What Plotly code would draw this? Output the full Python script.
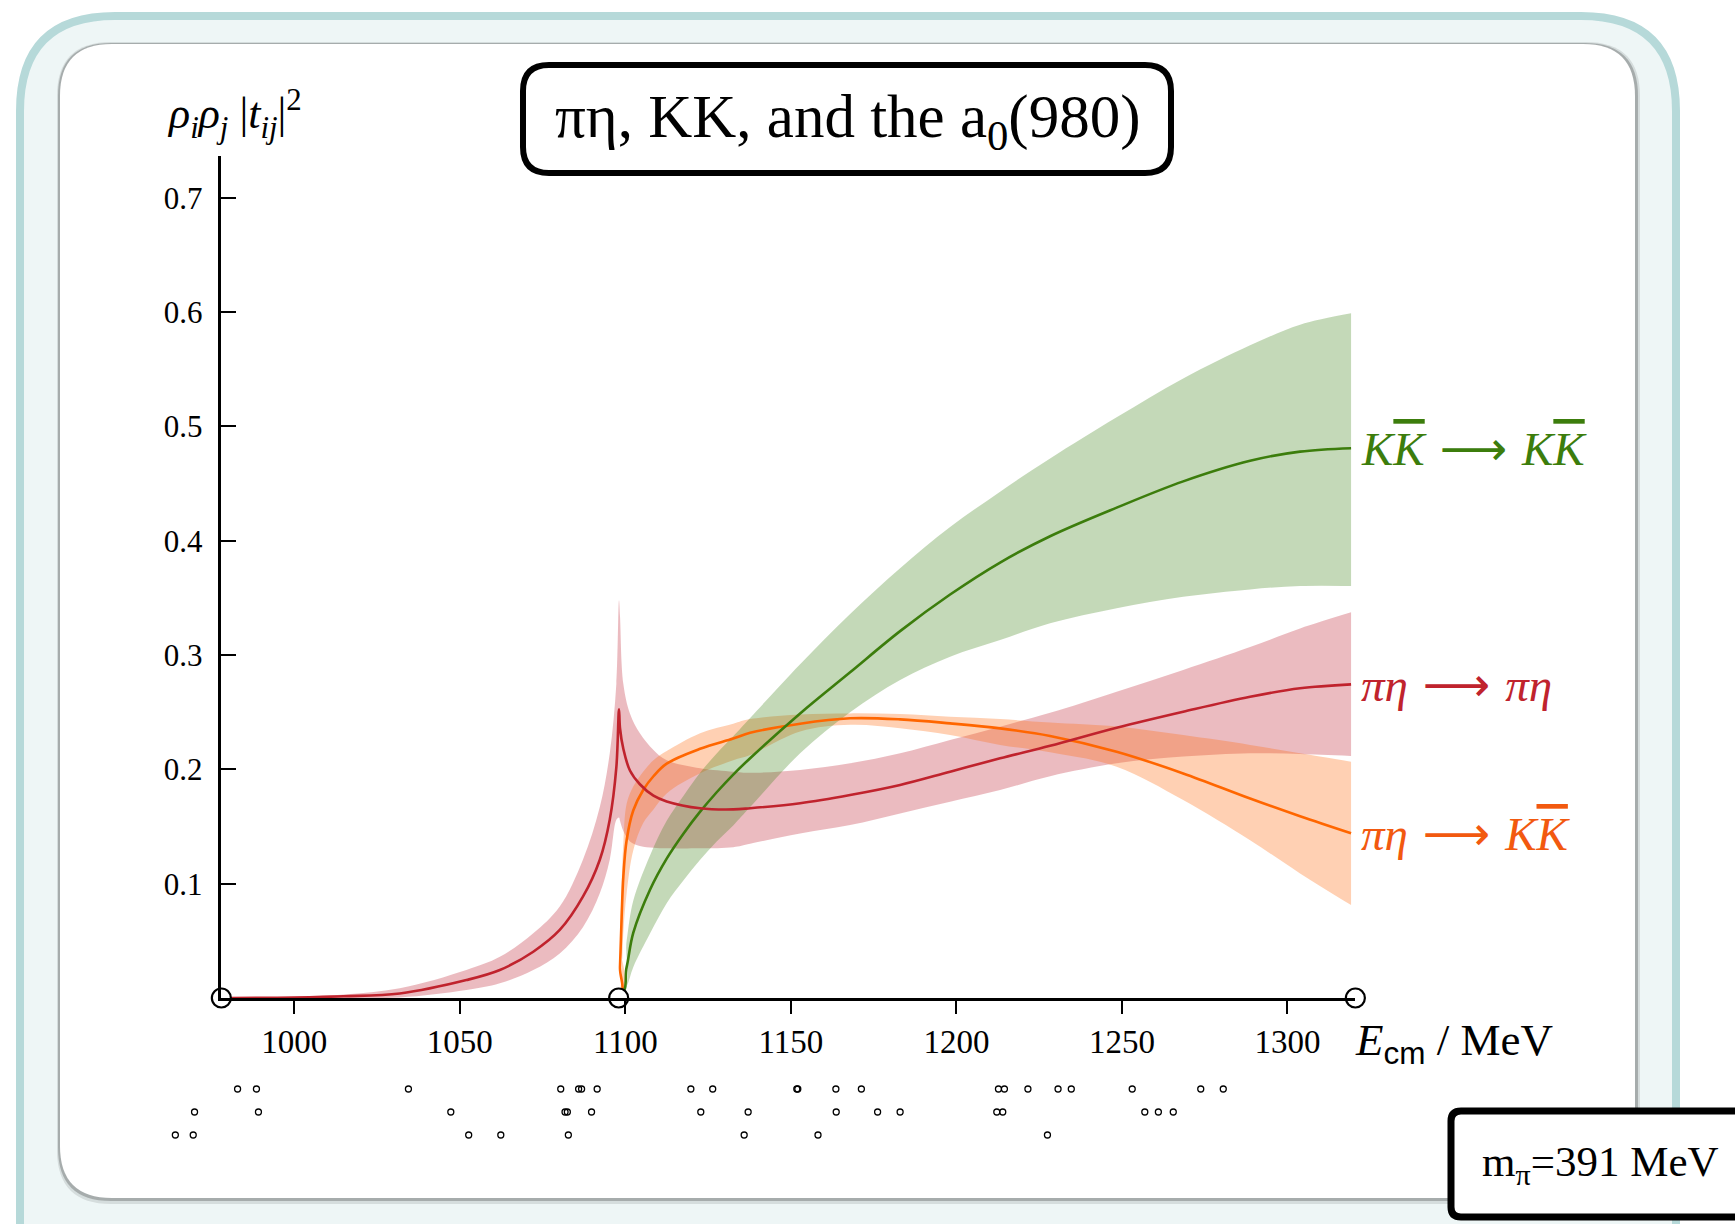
import plotly.graph_objects as go

W, H = 1735, 1224

# ---------------- data ----------------
# pi eta -> pi eta
E_pieta = [978, 1000, 1015, 1031.9, 1052, 1062.1, 1072.2, 1080.2, 1087.2, 1092.3, 1095.3, 1097.3,
           1098.1, 1098.4, 1099.4, 1101.4, 1104.4, 1108.5, 1112.5, 1122.6, 1132.6, 1137.7, 1152.8,
           1167.9, 1183, 1198.1, 1213.2, 1228.3, 1248.4, 1268.5, 1288.7, 1303.8, 1319.2]
pieta_central = [0, 0.0005, 0.0015, 0.004, 0.0157, 0.0245, 0.0405, 0.0595, 0.0886, 0.121, 0.156, 0.202,
                 0.2526, 0.236, 0.218, 0.199, 0.187, 0.177, 0.172, 0.166, 0.165, 0.166, 0.1704,
                 0.1776, 0.1864, 0.198, 0.2097, 0.2207, 0.2365, 0.2505, 0.2636, 0.271, 0.2744]
pieta_upper = [0, 0.001, 0.003, 0.0085, 0.0245, 0.036, 0.0566, 0.08, 0.121, 0.167, 0.214, 0.275,
               0.348, 0.334, 0.275, 0.249, 0.2316, 0.217, 0.208, 0.201, 0.198, 0.197, 0.1995,
               0.2053, 0.2141, 0.2257, 0.2374, 0.2495, 0.268, 0.287, 0.307, 0.3233, 0.3374]
pieta_lower = [0, 0, 0, 0.0005, 0.007, 0.0129, 0.0245, 0.039, 0.062, 0.0916, 0.121, 0.156,
               0.158, 0.155, 0.146, 0.137, 0.133, 0.1315, 0.131, 0.131, 0.132, 0.135, 0.144,
               0.1513, 0.1615, 0.1717, 0.1819, 0.194, 0.2053, 0.2112, 0.2141, 0.2135, 0.2118]

# pi eta -> K Kbar
E_pietaKK = [978, 1098, 1098.4, 1098.9, 1099.4, 1100.4, 1102.4, 1105.4, 1108.5, 1112.5, 1122.6, 1132.6,
             1137.7, 1152.8, 1167.9, 1183, 1198.1, 1213.2, 1228.3, 1248.4, 1268.5, 1288.7, 1303.8, 1319.2]
pietaKK_central = [0, 0, 0.027, 0.071, 0.106, 0.138, 0.164, 0.182, 0.194, 0.205, 0.218, 0.227,
                   0.232, 0.240, 0.2447, 0.2438, 0.2403, 0.2359, 0.2293, 0.2155, 0.1965, 0.1745, 0.159, 0.1441]
pietaKK_upper = [0, 0, 0.05, 0.10, 0.135, 0.17, 0.185, 0.198, 0.208, 0.216, 0.2316, 0.240,
                 0.244, 0.248, 0.249, 0.2484, 0.246, 0.244, 0.241, 0.2375, 0.230, 0.2214, 0.2141, 0.2068]
pietaKK_lower = [0, 0, 0.005, 0.02, 0.057, 0.0916, 0.129, 0.153, 0.165, 0.179, 0.1966, 0.208,
                 0.2126, 0.2332, 0.239, 0.236, 0.230, 0.2214, 0.215, 0.2024, 0.1732, 0.138, 0.109, 0.0813]

# K Kbar -> K Kbar
E_KK = [978, 1098, 1100.4, 1102.4, 1107.5, 1112.5, 1117.6, 1122.6, 1127.6, 1132.6, 1137.7, 1152.8,
        1167.9, 1183, 1198.1, 1213.2, 1228.3, 1248.4, 1268.5, 1288.7, 1303.8, 1319.2]
KK_central = [0, 0, 0.027, 0.057, 0.095, 0.122, 0.144, 0.163, 0.180, 0.1955, 0.2098, 0.249,
              0.285, 0.321, 0.353, 0.381, 0.404, 0.429, 0.452, 0.47, 0.478, 0.481]
KK_upper = [0, 0, 0.05, 0.085, 0.125, 0.155, 0.177, 0.197, 0.214, 0.229, 0.245, 0.292,
            0.336, 0.376, 0.412, 0.443, 0.472, 0.508, 0.542, 0.571, 0.589, 0.599]
KK_lower = [0, 0, 0.01, 0.027, 0.0566, 0.083, 0.103, 0.121, 0.137, 0.151, 0.167, 0.2141,
            0.250, 0.2782, 0.2986, 0.3132, 0.3278, 0.341, 0.351, 0.3575, 0.3605, 0.3605]

# axis markers: pi-eta threshold, K Kbar threshold, end of plotted range
threshold_E = [978, 1098, 1320.5]

# finite-volume energy levels (three rows below the axis)
levels_row1 = [982.9, 988.6, 1034.5, 1080.5, 1085.9, 1086.8, 1091.5, 1119.8, 1126.4, 1151.8, 1152.1,
               1163.6, 1171.3, 1212.7, 1214.5, 1221.6, 1230.7, 1234.7, 1253.1, 1273.8, 1280.6]
levels_row2 = [969.9, 989.2, 1047.3, 1081.8, 1082.5, 1089.8, 1122.8, 1137.1, 1163.7, 1176.2, 1183.0,
               1212.2, 1214.0, 1256.9, 1261.0, 1265.5]
levels_row3 = [964.1, 969.5, 1052.7, 1062.4, 1082.8, 1135.9, 1158.2, 1227.5]

x_ticks = [1000, 1050, 1100, 1150, 1200, 1250, 1300]
y_ticks = [0.1, 0.2, 0.3, 0.4, 0.5, 0.6, 0.7]
y_ticktext = ["0.1", "0.2", "0.3", "0.4", "0.5", "0.6", "0.7"]

# ---------------- styling ----------------
RED, RED_BAND = "#c0232d", "rgba(190,30,45,0.30)"
ORANGE, ORANGE_BAND = "#ff6600", "rgba(255,110,20,0.32)"
GREEN, GREEN_BAND = "#3c7d0c", "rgba(60,130,20,0.30)"
SERIF = "Liberation Serif"
SMOOTH = 1.0

fig = go.Figure()


def band(E, lo, hi, color):
    fig.add_trace(go.Scatter(x=E, y=lo, mode="lines",
                             line=dict(width=0, shape="spline", smoothing=SMOOTH),
                             hoverinfo="skip", showlegend=False))
    fig.add_trace(go.Scatter(x=E, y=hi, mode="lines", fill="tonexty", fillcolor=color,
                             line=dict(width=0, shape="spline", smoothing=SMOOTH),
                             hoverinfo="skip", showlegend=False))


def line(E, v, color):
    fig.add_trace(go.Scatter(x=E, y=v, mode="lines",
                             line=dict(color=color, width=2.6, shape="spline", smoothing=SMOOTH),
                             showlegend=False))


band(E_pieta, pieta_lower, pieta_upper, RED_BAND)
band(E_pietaKK, pietaKK_lower, pietaKK_upper, ORANGE_BAND)
band(E_KK, KK_lower, KK_upper, GREEN_BAND)
line(E_pietaKK, pietaKK_central, ORANGE)
line(E_KK, KK_central, GREEN)
line(E_pieta, pieta_central, RED)

fig.add_trace(go.Scatter(x=threshold_E, y=[0] * len(threshold_E), mode="markers", cliponaxis=False,
                         marker=dict(size=19, color="white", line=dict(color="black", width=2.2)),
                         showlegend=False))

for row, lv in enumerate([levels_row1, levels_row2, levels_row3], start=1):
    fig.add_trace(go.Scatter(x=lv, y=[-row] * len(lv), mode="markers", xaxis="x2", yaxis="y2",
                             cliponaxis=False,
                             marker=dict(symbol="circle-open", size=6, color="black",
                                         line=dict(width=1.3, color="black")),
                             showlegend=False))

# ---------------- geometry helpers (pixels -> paper) ----------------
def px_x(p):
    return p / W


def px_y(p):
    return 1 - p / H


def rrect(x0, y0, x1, y1, r):
    def P(x, y):
        return f"{x / W:.5f},{1 - y / H:.5f}"
    return (f"M {P(x0 + r, y0)} L {P(x1 - r, y0)} Q {P(x1, y0)} {P(x1, y0 + r)} "
            f"L {P(x1, y1 - r)} Q {P(x1, y1)} {P(x1 - r, y1)} L {P(x0 + r, y1)} "
            f"Q {P(x0, y1)} {P(x0, y1 - r)} L {P(x0, y0 + r)} Q {P(x0, y0)} {P(x0 + r, y0)} Z")


shapes = []
# outer teal frame
shapes.append(dict(type="path", path=rrect(20, 16, 1676, 1320, 95), xref="paper", yref="paper",
                   fillcolor="#eef6f6", line=dict(color="#b6d9d9", width=8), layer="below"))
# inner card shadow
shapes.append(dict(type="path", path=rrect(57, 42, 1640, 1204, 54), xref="paper", yref="paper",
                   fillcolor="rgba(0,0,0,0.10)", line=dict(width=0), layer="below"))
shapes.append(dict(type="path", path=rrect(58, 43, 1638, 1201, 53), xref="paper", yref="paper",
                   fillcolor="rgba(0,0,0,0.22)", line=dict(width=0), layer="below"))
# inner white card
shapes.append(dict(type="path", path=rrect(60, 44, 1635, 1198, 52), xref="paper", yref="paper",
                   fillcolor="white", line=dict(width=0), layer="below"))
# title box
shapes.append(dict(type="path", path=rrect(523, 65, 1171, 173, 26), xref="paper", yref="paper",
                   fillcolor="white", line=dict(color="black", width=6), layer="above"))
# m_pi box
shapes.append(dict(type="path", path=rrect(1451, 1111, 1770, 1217, 10), xref="paper", yref="paper",
                   fillcolor="white", line=dict(color="black", width=7), layer="above"))

# axes placement
X0, X1 = 978, 1320.5
def ex(E):
    return 294.2 + (E - 1000) * 3.311

Y_TOP = 0.737
xdom = [px_x(ex(X0)), px_x(ex(X1))]
ydom = [px_y(998), px_y(998 - Y_TOP * 1143)]

x2_left, x2_right = 100, 1480
x2_range = [1000 + (x2_left - 294.2) / 3.311, 1000 + (x2_right - 294.2) / 3.311]

ARROW = "<span style='font-family:DejaVu Sans'> ⟶ </span>"
KBAR = "<span style='text-decoration:overline'>K</span>"

annotations = [
    dict(text="πη, KK, and the a<sub>0</sub>(980)", x=px_x(847), y=px_y(121), xref="paper", yref="paper",
         showarrow=False, font=dict(family=SERIF, size=61, color="black"), xanchor="center", yanchor="middle"),
    dict(text="<i>ρ<sub>i</sub>ρ<sub>j</sub></i> |<i>t<sub>ij</sub></i>|<sup>2</sup>", x=px_x(235), y=px_y(114),
         xref="paper", yref="paper", showarrow=False, font=dict(family=SERIF, size=44, color="black"),
         xanchor="center", yanchor="middle"),
    dict(text="<i>E</i><sub><span style='font-family:Liberation Sans'>cm</span></sub> / MeV",
         x=px_x(1353), y=px_y(1043), xref="paper", yref="paper", showarrow=False,
         font=dict(family=SERIF, size=45, color="black"), xanchor="left", yanchor="middle"),
    dict(text="m<sub>π</sub>=391 MeV", x=px_x(1600), y=px_y(1165), xref="paper", yref="paper",
         showarrow=False, font=dict(family=SERIF, size=43, color="black"), xanchor="center", yanchor="middle"),
    dict(text="<i>K" + KBAR + "</i>" + ARROW + "<i>K" + KBAR + "</i>",
         x=E_KK[-1], y=KK_central[-1], xref="x", yref="y", xanchor="left", yanchor="middle", xshift=8,
         showarrow=False, font=dict(family=SERIF, size=47, color=GREEN)),
    dict(text="<i>πη</i>" + ARROW + "<i>πη</i>",
         x=E_pieta[-1], y=pieta_central[-1], xref="x", yref="y", xanchor="left", yanchor="middle", xshift=8,
         showarrow=False, font=dict(family=SERIF, size=47, color=RED)),
    dict(text="<i>πη</i>" + ARROW + "<i>K" + KBAR + "</i>",
         x=E_pietaKK[-1], y=pietaKK_central[-1], xref="x", yref="y", xanchor="left", yanchor="middle", xshift=8,
         showarrow=False, font=dict(family=SERIF, size=47, color="#f2590f")),
]

fig.update_layout(
    width=W, height=H, margin=dict(l=0, r=0, t=0, b=0, pad=0),
    paper_bgcolor="white", plot_bgcolor="rgba(0,0,0,0)",
    shapes=shapes, annotations=annotations, showlegend=False,
    xaxis=dict(domain=xdom, range=[X0, X1], showline=True, linecolor="black", linewidth=2.5,
               ticks="outside", ticklen=13, tickwidth=2, tickcolor="black",
               tickvals=x_ticks, tickfont=dict(family=SERIF, size=33, color="black"),
               showgrid=False, zeroline=False, ticklabelstandoff=0, anchor="y"),
    yaxis=dict(domain=ydom, range=[0, Y_TOP], showline=True, linecolor="black", linewidth=2.5,
               ticks="inside", ticklen=15, tickwidth=2, tickcolor="black",
               tickvals=y_ticks, ticktext=y_ticktext, tickfont=dict(family=SERIF, size=31, color="black"),
               showgrid=False, zeroline=False, ticklabelstandoff=10, anchor="x"),
    xaxis2=dict(domain=[px_x(x2_left), px_x(x2_right)], range=x2_range, visible=False, anchor="y2"),
    yaxis2=dict(domain=[px_y(1146.5), px_y(1077.5)], range=[-3.5, -0.5], visible=False, anchor="x2"),
)

fig.write_html("out.html")
